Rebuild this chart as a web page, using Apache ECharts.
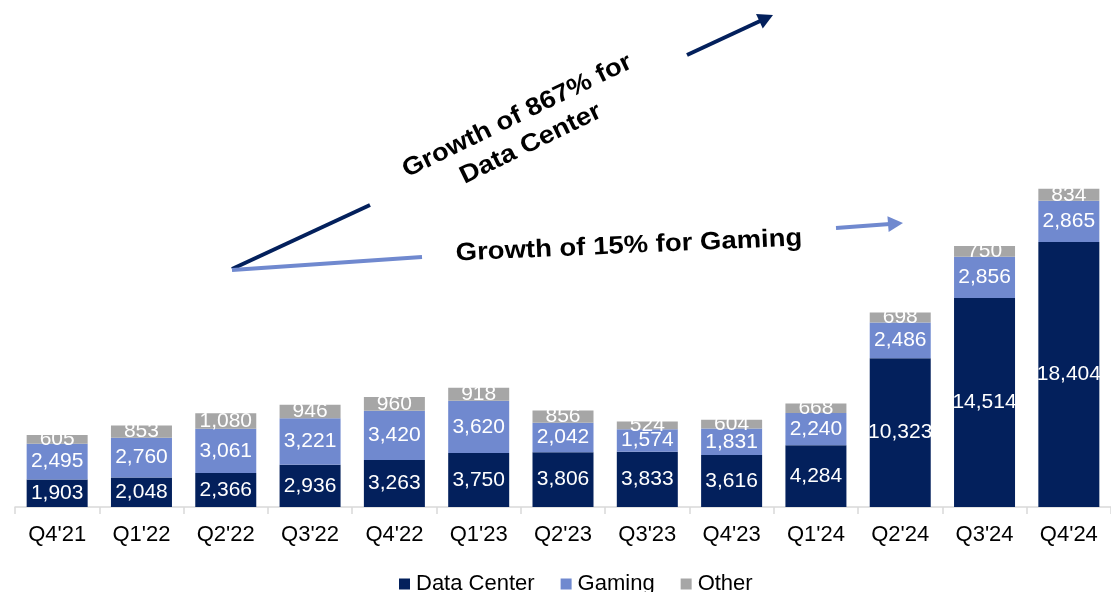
<!DOCTYPE html>
<html>
<head>
<meta charset="utf-8">
<script src="https://cdn.jsdelivr.net/npm/echarts@6/dist/echarts.min.js"></script>
<style>
  html, body { margin: 0; padding: 0; background: #ffffff; }
  #chart { width: 1111px; height: 592px; }
</style>
</head>
<body>
<div id="chart"></div>
<script>
// Quarterly revenue by segment ($M)
const quarters = ["Q4'21", "Q1'22", "Q2'22", "Q3'22", "Q4'22", "Q1'23", "Q2'23", "Q3'23", "Q4'23", "Q1'24", "Q2'24", "Q3'24", "Q4'24"];
const dataCenter = [1903, 2048, 2366, 2936, 3263, 3750, 3806, 3833, 3616, 4284, 10323, 14514, 18404];
const gaming = [2495, 2760, 3061, 3221, 3420, 3620, 2042, 1574, 1831, 2240, 2486, 2856, 2865];
const other = [605, 853, 1080, 946, 960, 918, 856, 524, 604, 668, 698, 750, 834];

const NAVY = '#03205c';
const BLUE = '#7089cf';
const GREY = '#a6a6a6';
const FONT = '"Liberation Sans", Arial, sans-serif';

const chart = echarts.init(document.getElementById('chart'), null, { renderer: 'canvas' });

// Straight arrow: shaft plus a filled triangular head at (x2, y2)
function arrow(x1, y1, x2, y2, color, lineWidth, headLen, headHalf) {
  const dx = x2 - x1, dy = y2 - y1;
  const len = Math.sqrt(dx * dx + dy * dy);
  const ux = dx / len, uy = dy / len;
  const bx = x2 - ux * headLen, by = y2 - uy * headLen;
  const px = -uy, py = ux;
  return [
    { type: 'line', silent: true,
      shape: { x1: x1, y1: y1, x2: bx + ux * 2, y2: by + uy * 2 },
      style: { stroke: color, lineWidth: lineWidth } },
    { type: 'polygon', silent: true,
      shape: { points: [[x2, y2], [bx + px * headHalf, by + py * headHalf], [bx - px * headHalf, by - py * headHalf]] },
      style: { fill: color } }
  ];
}

const labelStyle = {
  show: true,
  position: 'inside',
  color: '#ffffff',
  fontSize: 21,
  fontFamily: FONT,
  formatter: p => p.value.toLocaleString('en-US')
};

const deg = Math.PI / 180;

const graphics = [
  // Data Center trend: tail segment and arrow
  { type: 'line', silent: true, shape: { x1: 232, y1: 269, x2: 370, y2: 205 }, style: { stroke: NAVY, lineWidth: 4 } },
  ...arrow(687, 55, 773, 15, NAVY, 4, 15, 8),
  // Gaming trend: tail segment and arrow
  { type: 'line', silent: true, shape: { x1: 232, y1: 270, x2: 422, y2: 257 }, style: { stroke: BLUE, lineWidth: 4 } },
  ...arrow(836, 228, 903, 223, BLUE, 4, 15, 8),
  {
    type: 'text', silent: true,
    x: 524, y: 130, rotation: 26 * deg, scaleX: 1.1,
    style: {
      text: 'Growth of 867% for\nData Center',
      fill: '#000000', font: 'bold 25px ' + FONT,
      align: 'center', verticalAlign: 'middle', lineHeight: 31
    }
  },
  {
    type: 'text', silent: true,
    x: 629, y: 246, rotation: 2.5 * deg, scaleX: 1.1,
    style: {
      text: 'Growth of 15% for Gaming',
      fill: '#000000', font: 'bold 25px ' + FONT,
      align: 'center', verticalAlign: 'middle'
    }
  }
];

chart.setOption({
  animation: false,
  backgroundColor: '#ffffff',
  textStyle: { fontFamily: FONT },
  grid: { left: 15, top: 75, width: 1109, height: 432, containLabel: false },
  legend: {
    left: 394, top: 568,
    itemWidth: 11, itemHeight: 11, itemGap: 26,
    icon: 'rect',
    textStyle: { color: '#000000', fontSize: 22, fontFamily: FONT, padding: [0, 0, 0, 1] },
    data: ['Data Center', 'Gaming', 'Other']
  },
  xAxis: {
    type: 'category',
    data: quarters,
    axisLine: { lineStyle: { color: '#d9d9d9', width: 1.5 } },
    axisTick: { show: true, length: 7, lineStyle: { color: '#d9d9d9', width: 1.5 } },
    axisLabel: { color: '#000000', fontSize: 22, fontFamily: FONT, margin: 17, interval: 0 }
  },
  yAxis: {
    type: 'value', min: 0, max: 30000, show: false,
    splitLine: { show: false }
  },
  series: [
    { name: 'Data Center', type: 'bar', stack: 'rev', data: dataCenter, barWidth: 61,
      itemStyle: { color: NAVY }, label: labelStyle },
    { name: 'Gaming', type: 'bar', stack: 'rev', data: gaming, barWidth: 61,
      itemStyle: { color: BLUE }, label: labelStyle },
    { name: 'Other', type: 'bar', stack: 'rev', data: other, barWidth: 61,
      itemStyle: { color: GREY }, label: labelStyle }
  ],
  graphic: graphics
});
</script>
</body>
</html>
